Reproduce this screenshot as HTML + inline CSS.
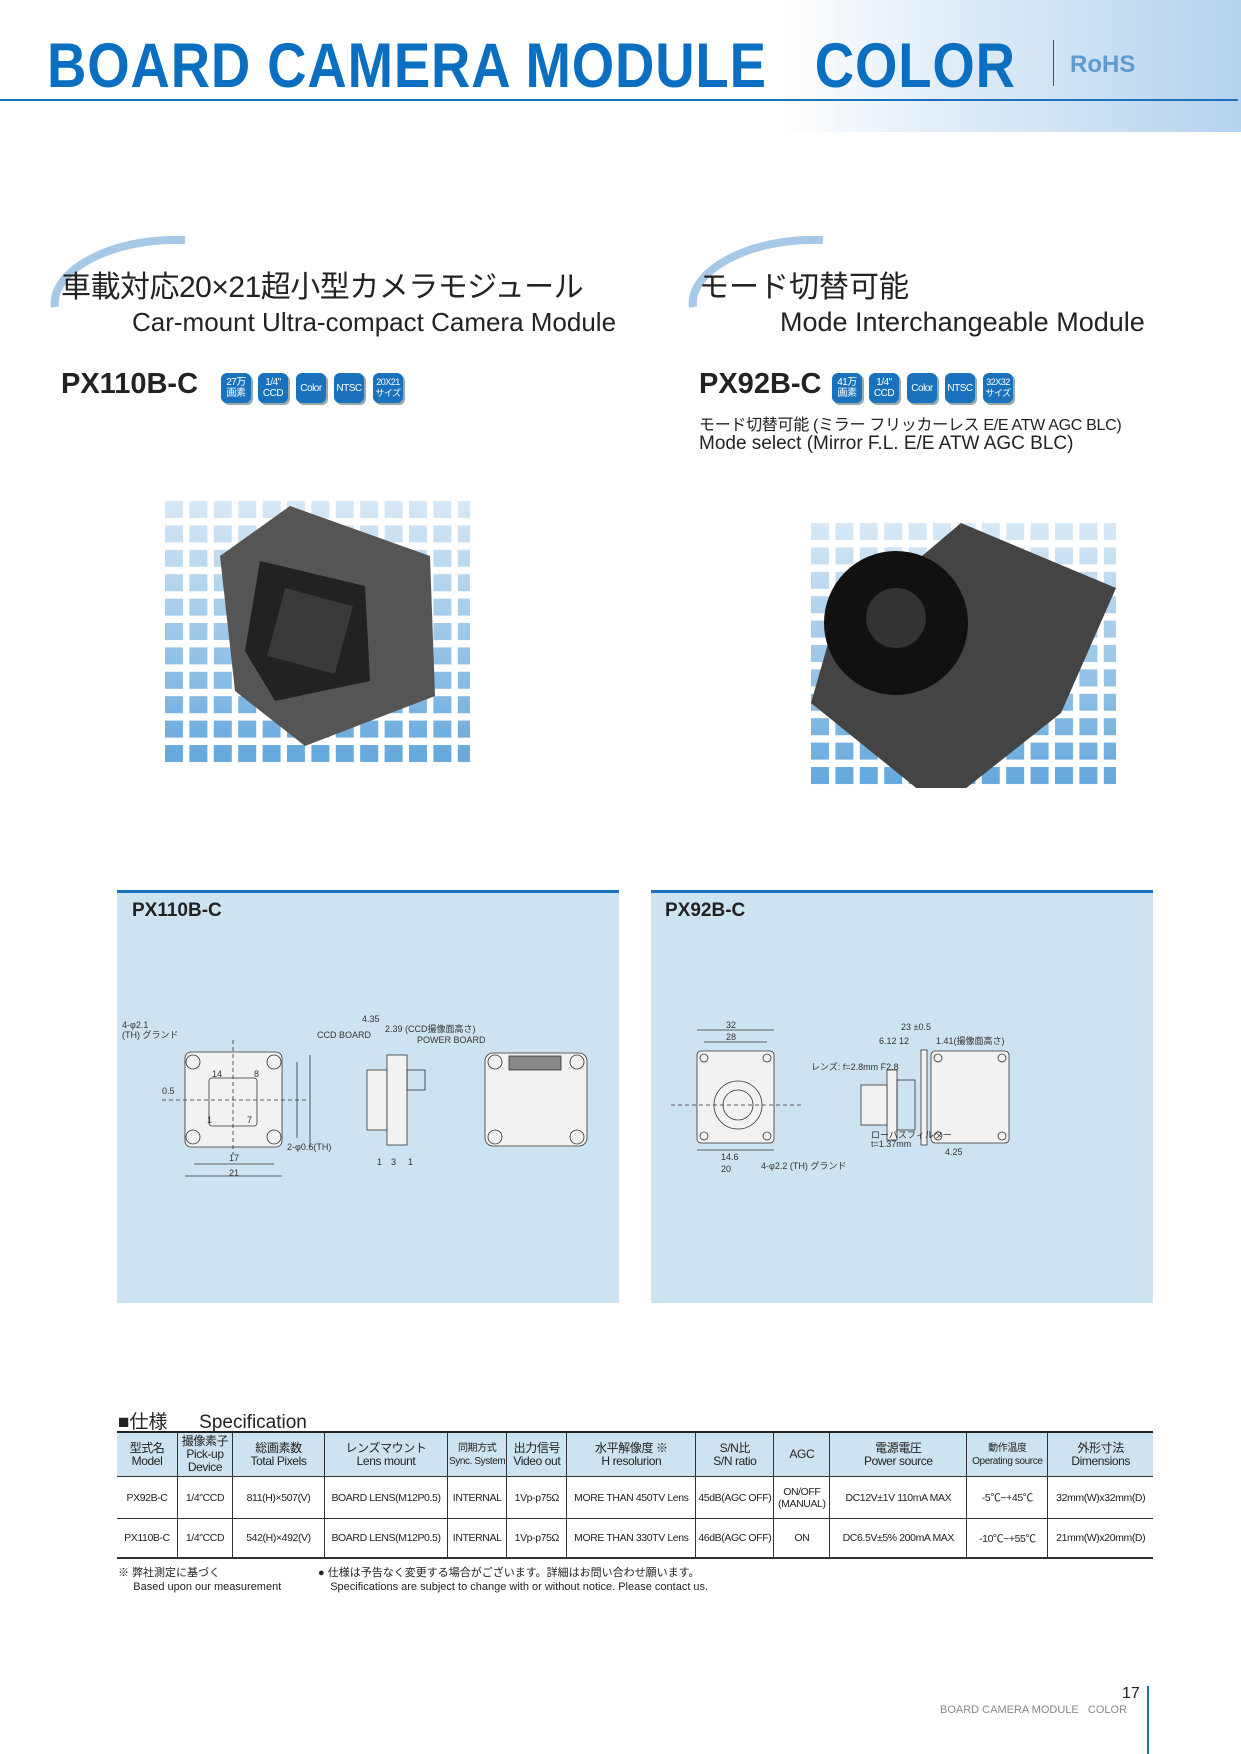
<!DOCTYPE html>
<html><head><meta charset="utf-8"><style>
body{margin:0;background:#fff}
#p{position:relative;width:1241px;height:1754px;overflow:hidden;font-family:"Liberation Sans","Noto Sans CJK JP",sans-serif;color:#222}
.a{position:absolute;white-space:nowrap}
.badge{position:absolute;width:30px;height:30px;background:#1a72bd;border-radius:6px;box-shadow:2px 2px 0 #9aa;color:#fff;font-size:10px;line-height:11px;text-align:center;display:flex;align-items:center;justify-content:center;letter-spacing:-0.5px}
.panel{position:absolute;background:#cde3f1;border-top:3px solid #1a72bd}
table{position:absolute;left:117px;top:1433px;width:1036px;border-collapse:collapse;font-size:10.5px;font-family:"Liberation Sans Narrow","Liberation Sans","Noto Sans CJK JP",sans-serif}
td{border-left:1px solid #333;text-align:center;padding:0 1px;letter-spacing:-0.4px;white-space:nowrap}
td:first-child{border-left:none}
tr.h td{background:#cde3f1;height:43px;font-size:12px;line-height:13px}
tr.r1 td{height:41px;border-top:1px solid #333}
tr.r2 td{height:38px;border-top:1px solid #333;border-bottom:2px solid #333}
</style></head><body><div id="p">
<div class="a" style="left:780px;top:0;width:461px;height:132px;background:linear-gradient(90deg,rgba(255,255,255,1),rgba(190,215,240,.5) 40%,rgba(120,175,225,.55) 100%)"></div>
<div class="a" style="left:47px;top:30px;font-size:63px;font-weight:bold;color:#0a6fc0;letter-spacing:1px;transform:scaleX(0.865);transform-origin:left">BOARD CAMERA MODULE&nbsp;&nbsp;&nbsp;COLOR</div>
<div class="a" style="left:1053px;top:40px;width:1px;height:46px;background:#555"></div>
<div class="a" style="left:1070px;top:51px;font-size:24px;font-weight:bold;color:#5e9bd0">RoHS</div>
<div class="a" style="left:0;top:99px;width:1238px;height:2px;background:#1a72bd"></div>

<svg class="a" style="left:50px;top:232px" width="150" height="90"><path d="M5 75 C0 40 60 5 135 8" stroke="#a7c8e6" stroke-width="8" fill="none"/></svg>
<svg class="a" style="left:688px;top:232px" width="150" height="90"><path d="M5 75 C0 40 60 5 135 8" stroke="#a7c8e6" stroke-width="8" fill="none"/></svg>
<div class="a" style="left:61px;top:262px;font-size:30px;color:#222;letter-spacing:-0.5px">車載対応20×21超小型カメラモジュール</div>
<div class="a" style="left:132px;top:307px;font-size:26px">Car-mount Ultra-compact Camera Module</div>
<div class="a" style="left:699px;top:262px;font-size:30px">モード切替可能</div>
<div class="a" style="left:780px;top:307px;font-size:27px">Mode Interchangeable Module</div>

<div class="a" style="left:61px;top:368px;font-size:29px;font-weight:bold">PX110B-C</div>
<div class="badge" style="left:221px;top:373px">27万<br>画素</div>
<div class="badge" style="left:258px;top:373px">1/4"<br>CCD</div>
<div class="badge" style="left:296px;top:373px">Color</div>
<div class="badge" style="left:334px;top:373px">NTSC</div>
<div class="badge" style="left:373px;top:373px;font-size:9px">20X21<br>サイズ</div>
<div class="a" style="left:699px;top:368px;font-size:29px;font-weight:bold">PX92B-C</div>
<div class="badge" style="left:832px;top:373px">41万<br>画素</div>
<div class="badge" style="left:869px;top:373px">1/4"<br>CCD</div>
<div class="badge" style="left:907px;top:373px">Color</div>
<div class="badge" style="left:945px;top:373px">NTSC</div>
<div class="badge" style="left:983px;top:373px;font-size:9px">32X32<br>サイズ</div>
<div class="a" style="left:699px;top:411px;font-size:16px;letter-spacing:-0.3px">モード切替可能 (ミラー フリッカーレス E/E ATW AGC BLC)</div>
<div class="a" style="left:699px;top:433px;font-size:19px">Mode select (Mirror F.L. E/E ATW AGC BLC)</div>

<svg class="a" style="left:165px;top:501px" width="305" height="265">
<defs><pattern id="g" width="24.4" height="24.4" patternUnits="userSpaceOnUse"><rect width="18" height="17" fill="#62a7dc"/></pattern>
<linearGradient id="f" x1="0" y1="0" x2="0" y2="1"><stop offset="0" stop-color="#fff" stop-opacity=".75"/><stop offset="1" stop-color="#fff" stop-opacity="0"/></linearGradient></defs>
<rect width="305" height="265" fill="url(#g)"/><rect width="305" height="265" fill="url(#f)"/>
<polygon points="125,5 265,55 270,195 140,245 70,190 55,55" fill="#555"/>
<polygon points="95,60 200,85 205,180 110,200 80,150" fill="#222"/>
<rect x="110" y="95" width="70" height="70" fill="#3a3a3a" transform="rotate(15 145 130)"/>
</svg>
<svg class="a" style="left:811px;top:523px" width="305" height="265">
<rect width="305" height="265" fill="url(#g)"/><rect width="305" height="265" fill="url(#f)"/>
<polygon points="20,110 150,0 305,65 250,190 130,285 0,180" fill="#444"/>
<circle cx="85" cy="100" r="72" fill="#111"/><circle cx="85" cy="95" r="30" fill="#333"/>
</svg>

<div class="panel" style="left:117px;top:890px;width:502px;height:410px"></div>
<div class="panel" style="left:651px;top:890px;width:502px;height:410px"></div>
<div class="a" style="left:132px;top:900px;font-size:19px;font-weight:bold">PX110B-C</div>
<div class="a" style="left:665px;top:900px;font-size:19px;font-weight:bold">PX92B-C</div>

<svg class="a" style="left:117px;top:990px" width="500" height="200" font-size="9" font-family="Liberation Sans,Noto Sans CJK JP,sans-serif" fill="none" stroke="#333" stroke-width="0.8">
<rect x="68" y="62" width="97" height="95" rx="6" fill="#f2f2f2"/>
<rect x="92" y="88" width="48" height="48" rx="3"/>
<circle cx="76" cy="72" r="7"/><circle cx="157" cy="72" r="7"/><circle cx="76" cy="147" r="7"/><circle cx="157" cy="147" r="7"/>
<line x1="116" y1="50" x2="116" y2="165" stroke-dasharray="4 3"/><line x1="45" y1="110" x2="190" y2="110" stroke-dasharray="4 3"/>
<line x1="180" y1="72" x2="180" y2="148"/><line x1="193" y1="65" x2="193" y2="157"/>
<line x1="77" y1="174" x2="157" y2="174"/><line x1="68" y1="186" x2="165" y2="186"/>
<rect x="250" y="80" width="20" height="60" fill="#f2f2f2"/><rect x="270" y="65" width="20" height="90" fill="#f2f2f2"/><rect x="290" y="80" width="18" height="20"/>
<rect x="368" y="63" width="102" height="93" rx="8" fill="#f2f2f2"/><rect x="392" y="66" width="52" height="14" fill="#888"/>
<circle cx="378" cy="72" r="7"/><circle cx="460" cy="72" r="7"/><circle cx="378" cy="147" r="7"/><circle cx="460" cy="147" r="7"/>
<g fill="#333" stroke="none"><text x="5" y="38">4-φ2.1</text><text x="5" y="48">(TH) グランド</text><text x="45" y="104">0.5</text>
<text x="95" y="87">14</text><text x="137" y="87">8</text><text x="90" y="133">1</text><text x="130" y="133">7</text>
<text x="112" y="171">17</text><text x="112" y="186">21</text><text x="170" y="160">2-φ0.6(TH)</text>
<text x="245" y="32">4.35</text><text x="200" y="48">CCD BOARD</text><text x="268" y="42">2.39 (CCD撮像面高さ)</text><text x="300" y="53">POWER BOARD</text>
<text x="260" y="175">1</text><text x="274" y="175">3</text><text x="291" y="175">1</text></g>
</svg>

<svg class="a" style="left:651px;top:1020px" width="502" height="160" font-size="9" font-family="Liberation Sans,Noto Sans CJK JP,sans-serif" fill="none" stroke="#333" stroke-width="0.8">
<rect x="46" y="31" width="77" height="92" rx="4" fill="#f2f2f2"/>
<circle cx="87" cy="85" r="24"/><circle cx="87" cy="85" r="15"/>
<circle cx="53" cy="38" r="4"/><circle cx="116" cy="38" r="4"/><circle cx="53" cy="116" r="4"/><circle cx="116" cy="116" r="4"/>
<line x1="20" y1="85" x2="150" y2="85" stroke-dasharray="4 3"/>
<line x1="46" y1="10" x2="123" y2="10"/><line x1="53" y1="22" x2="116" y2="22"/><line x1="46" y1="130" x2="123" y2="130"/>
<rect x="236" y="50" width="10" height="70" fill="#f2f2f2"/><rect x="210" y="65" width="26" height="40" fill="#f2f2f2"/><rect x="246" y="60" width="18" height="50"/><rect x="270" y="30" width="6" height="95" fill="#f2f2f2"/>
<rect x="280" y="31" width="78" height="92" rx="4" fill="#f2f2f2"/>
<circle cx="287" cy="38" r="4"/><circle cx="351" cy="38" r="4"/><circle cx="287" cy="116" r="4"/><circle cx="351" cy="116" r="4"/>
<g fill="#333" stroke="none"><text x="75" y="8">32</text><text x="75" y="20">28</text><text x="250" y="10">23 ±0.5</text><text x="228" y="24">6.12  12</text>
<text x="285" y="24">1.41(撮像面高さ)</text><text x="160" y="50">レンズ: f=2.8mm F2.8</text><text x="220" y="118">ローパスフィルター</text><text x="220" y="127">t=1.37mm</text>
<text x="70" y="140">14.6</text><text x="70" y="152">20</text><text x="110" y="149">4-φ2.2 (TH) グランド</text><text x="294" y="135">4.25</text></g>
</svg>

<div class="a" style="left:118px;top:1407px;font-size:19px">■仕様&nbsp;&nbsp;&nbsp;&nbsp;&nbsp;&nbsp;Specification</div>
<div class="a" style="left:117px;top:1431px;width:1036px;height:3px;background:#222"></div>
<table><tr class="h"><td style="width:58px">型式名<br>Model</td><td style="width:52px">撮像素子<br>Pick-up<br>Device</td><td style="width:89px">総画素数<br>Total Pixels</td><td style="width:120px">レンズマウント<br>Lens mount</td><td style="width:48px;font-size:10px">同期方式<br>Sync. System</td><td style="width:57px">出力信号<br>Video out</td><td style="width:126px">水平解像度 ※<br>H resolurion</td><td style="width:75px">S/N比<br>S/N ratio</td><td style="width:53px">AGC</td><td style="width:134px">電源電圧<br>Power source</td><td style="width:78px;font-size:10px">動作温度<br>Operating source</td><td>外形寸法<br>Dimensions</td></tr>
<tr class="r1"><td>PX92B-C</td><td>1/4"CCD</td><td>811(H)×507(V)</td><td>BOARD LENS(M12P0.5)</td><td>INTERNAL</td><td>1Vp-p75Ω</td><td>MORE THAN 450TV Lens</td><td>45dB(AGC OFF)</td><td>ON/OFF<br>(MANUAL)</td><td>DC12V±1V 110mA MAX</td><td>-5℃~+45℃</td><td>32mm(W)x32mm(D)</td></tr>
<tr class="r2"><td>PX110B-C</td><td>1/4"CCD</td><td>542(H)×492(V)</td><td>BOARD LENS(M12P0.5)</td><td>INTERNAL</td><td>1Vp-p75Ω</td><td>MORE THAN 330TV Lens</td><td>46dB(AGC OFF)</td><td>ON</td><td>DC6.5V±5% 200mA MAX</td><td>-10℃~+55℃</td><td>21mm(W)x20mm(D)</td></tr></table>
<div class="a" style="left:118px;top:1566px;font-size:11px;line-height:14px">※ 弊社測定に基づく<br>&nbsp;&nbsp;&nbsp;&nbsp;&nbsp;Based upon our measurement</div>
<div class="a" style="left:318px;top:1566px;font-size:11px;line-height:14px">● 仕様は予告なく変更する場合がございます。詳細はお問い合わせ願います。<br>&nbsp;&nbsp;&nbsp;&nbsp;Specifications are subject to change with or without notice. Please contact us.</div>
<div class="a" style="left:1122px;top:1685px;font-size:16px">17</div>
<div class="a" style="left:940px;top:1704px;font-size:11px;color:#888">BOARD CAMERA MODULE&nbsp;&nbsp;&nbsp;COLOR</div>
<div class="a" style="left:1147px;top:1686px;width:2px;height:68px;background:#1a72bd"></div>
</div></body></html>
